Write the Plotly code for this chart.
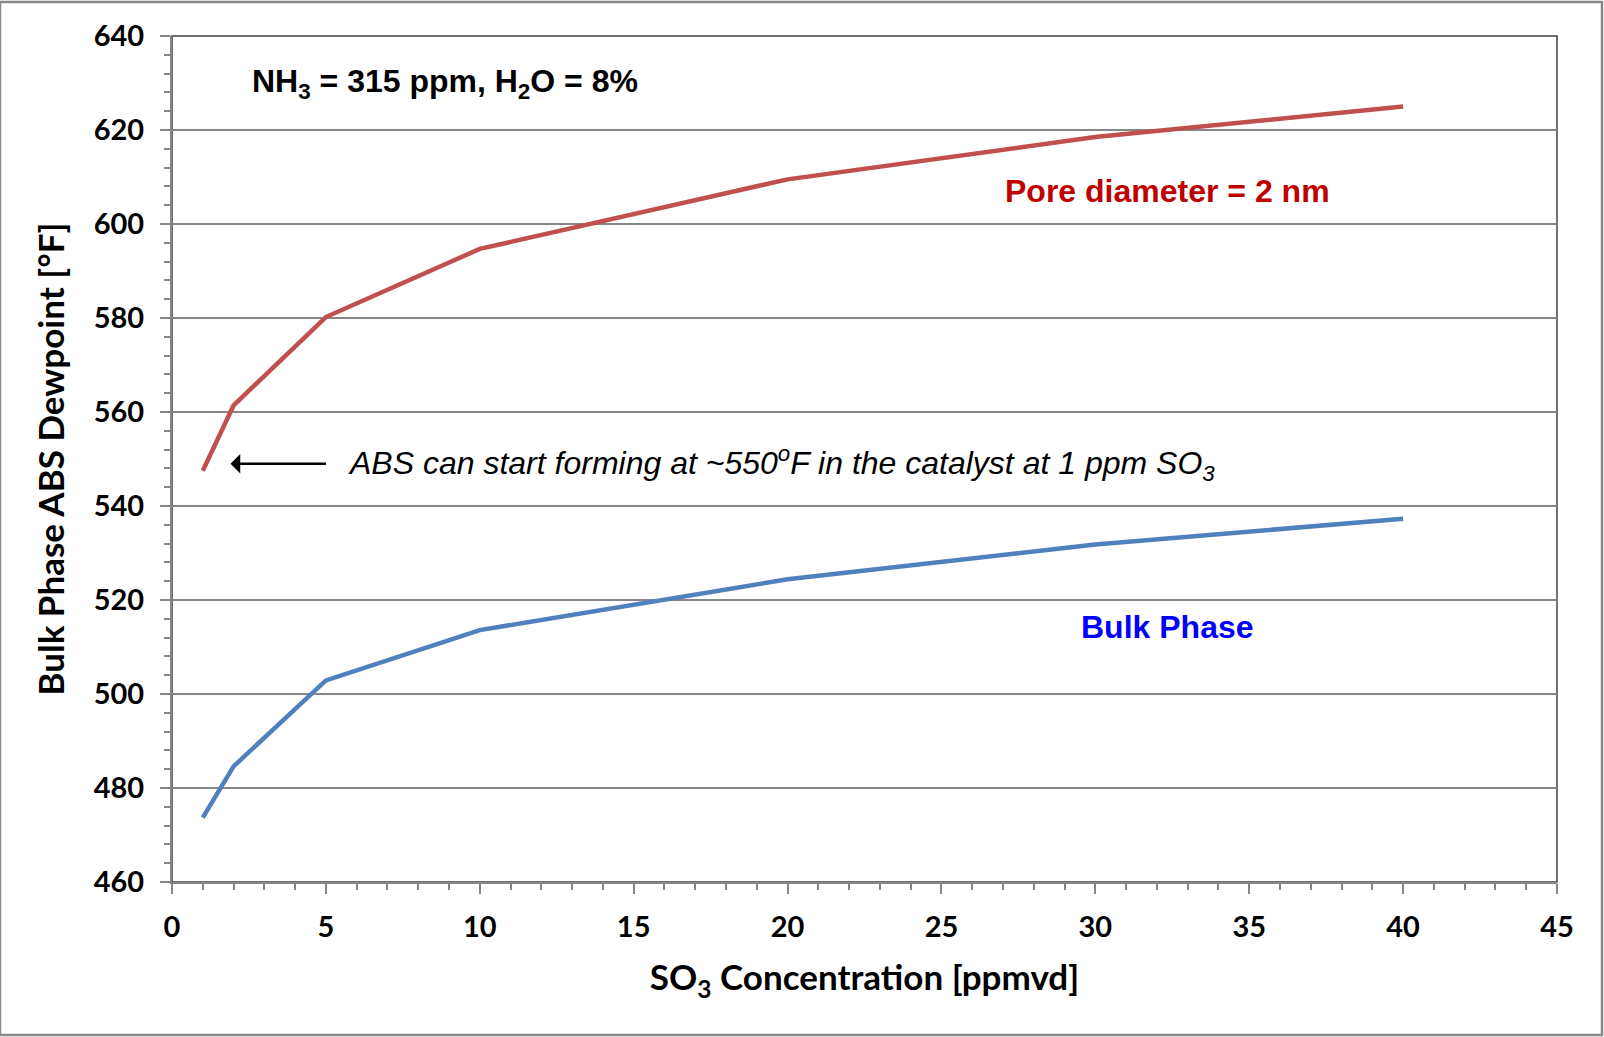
import plotly.graph_objects as go

# SO3 concentration (ppmvd)
so3_ppm = [1, 2, 5, 10, 20, 30, 40]
# ABS dewpoint (°F) inside 2 nm catalyst pores
pore_2nm_dewpoint = [547.5, 561.4, 580.2, 594.7, 609.5, 618.5, 625.0]
# ABS dewpoint (°F) in the bulk gas phase
bulk_phase_dewpoint = [473.7, 484.6, 502.9, 513.6, 524.4, 531.8, 537.3]

x_ticks = [0, 5, 10, 15, 20, 25, 30, 35, 40, 45]
y_ticks = [460, 480, 500, 520, 540, 560, 580, 600, 620, 640]

RED = "#C0504D"
BLUE = "#4F81BD"
AXIS_FONT = "Lato, 'Open Sans', sans-serif"
ANNOT_FONT = "'Liberation Sans', Arial, sans-serif"

fig = go.Figure()
fig.add_trace(go.Scatter(x=so3_ppm, y=pore_2nm_dewpoint, mode="lines",
                         line=dict(color=RED, width=4.5), name="Pore diameter = 2 nm"))
fig.add_trace(go.Scatter(x=so3_ppm, y=bulk_phase_dewpoint, mode="lines",
                         line=dict(color=BLUE, width=4.5), name="Bulk Phase"))

fig.update_layout(
    width=1604, height=1037,
    margin=dict(l=172, r=47, t=36, b=155),
    paper_bgcolor="white", plot_bgcolor="white",
    showlegend=False,
    xaxis=dict(
        range=[0, 45], tickvals=x_ticks, showgrid=False, zeroline=False,
        showline=True, linecolor="#868686", linewidth=2,
        ticks="outside", ticklen=10, tickcolor="#868686", tickwidth=1.5,
        minor=dict(dtick=1, ticks="outside", ticklen=6, tickcolor="#868686", tickwidth=1.5),
        tickfont=dict(family=AXIS_FONT, size=29, color="black", weight="bold"),
        ticklabelstandoff=8,
        title=dict(text="SO<sub>3</sub> Concentration [ppmvd]", standoff=24,
                   font=dict(family=AXIS_FONT, size=35, color="black", weight="bold")),
    ),
    yaxis=dict(
        range=[460, 640], tickvals=y_ticks, zeroline=False,
        showgrid=True, gridcolor="#868686", gridwidth=1.5,
        showline=True, linecolor="#868686", linewidth=2,
        ticks="outside", ticklen=10, tickcolor="#868686", tickwidth=1.5,
        minor=dict(dtick=4, ticks="outside", ticklen=6, tickcolor="#868686", tickwidth=1.5,
                   showgrid=False),
        tickfont=dict(family=AXIS_FONT, size=29, color="black", weight="bold"),
        ticklabelstandoff=10,
        title=dict(text="Bulk Phase ABS Dewpoint [°F]", standoff=18,
                   font=dict(family=AXIS_FONT, size=35, color="black", weight="bold")),
    ),
)

# Plot-area frame (top and right edges) and outer chart border
fig.add_shape(type="rect", xref="paper", yref="paper", x0=0, y0=0, x1=1, y1=1,
              line=dict(color="#404040", width=1.5), layer="below")
fig.add_shape(type="rect", xref="paper", yref="paper",
              x0=-172 / 1385, y0=-153 / 846, x1=1 + 45 / 1385, y1=1 + 34 / 846,
              line=dict(color="#898989", width=2.5))

fig.add_annotation(x=2.53, y=629.8, xref="x", yref="y", xanchor="left", yanchor="middle",
                   text="NH<sub>3</sub> = 315 ppm, H<sub>2</sub>O = 8%", showarrow=False,
                   font=dict(family=ANNOT_FONT, size=32, color="black", weight="bold"))
fig.add_annotation(x=32.35, y=607.1, xref="x", yref="y", xanchor="center", yanchor="middle",
                   text="Pore diameter = 2 nm", showarrow=False,
                   font=dict(family=ANNOT_FONT, size=32, color="#C00000", weight="bold"))
fig.add_annotation(x=32.35, y=514.2, xref="x", yref="y", xanchor="center", yanchor="middle",
                   text="Bulk Phase", showarrow=False,
                   font=dict(family=ANNOT_FONT, size=32, color="#0000FF", weight="bold"))
fig.add_annotation(x=5.65, y=549, xref="x", yref="y", xanchor="left", yanchor="middle",
                   text="ABS can start forming at ~550<sup>o</sup>F in the catalyst at 1 ppm SO<sub>3</sub>",
                   showarrow=False,
                   font=dict(family=ANNOT_FONT, size=32, color="black", style="italic"))
fig.add_annotation(x=1.9, y=549, xref="x", yref="y", ax=5.05, ay=549, axref="x", ayref="y",
                   text="", showarrow=True, arrowhead=1, arrowsize=1.3, arrowwidth=2.5,
                   arrowcolor="black")

fig.write_html("out.html")
